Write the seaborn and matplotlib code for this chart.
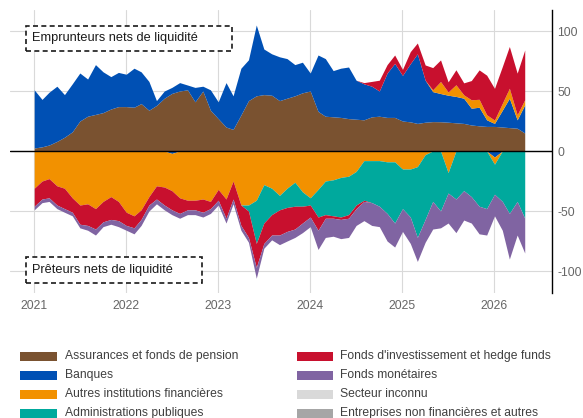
import matplotlib
matplotlib.use("Agg")
import matplotlib.pyplot as plt
from matplotlib.patches import Rectangle
import pandas as pd
import seaborn as sns

# ---------------- data (monthly, Jan 2021 - May 2026) ----------------
dates = pd.date_range("2021-01-01", periods=65, freq="MS")

# borrowers (positive stack)
assurances_pos = [2.5, 3.5, 5, 8, 11.5, 16, 25, 29, 30.5, 32,
                  35, 37, 37, 36.5, 39.5, 34, 38, 44, 48, 50,
                  51, 41, 50, 34, 27, 20, 18, 30, 42, 46,
                  47, 46.5, 42, 44, 46, 48.5, 50, 33, 29, 28.5,
                  28, 27, 26.5, 26, 28.5, 29, 28, 28, 25, 24.3,
                  23, 24, 24.5, 24.4, 24, 23.5, 23, 21.7, 21, 20.5,
                  20.5, 20, 19.5, 19, 15]
banques_pos = [48.5, 39.5, 44, 46, 35.5, 40, 40, 31, 41.5, 34,
               27, 28.5, 27, 32.5, 26.5, 24, 4, 6, 5, 7,
               4, 12, 4, 17, 14, 37, 28, 39, 34, 59,
               38, 34.5, 36.5, 33, 26, 25.5, 15, 47, 48, 38.5,
               41, 43, 32.5, 30, 25.5, 21, 37, 45, 38, 48.5,
               58, 35, 25, 23.5, 22.5, 22, 21, 14, 15.5, 5.5,
               2.5, 14, 24.5, 7, 23.5]
autres_pos = [0] * 52 + [1.5, 10, 2.7, 9.7, 2.8, 7, 6.6, 4.2, 2.8, 5.7, 8.3, 4.2, 4.2]
fonds_inv_pos = [0] * 43 + [1, 4, 9, 7, 7, 5, 10, 9, 12.7, 18.5, 18, 8.4, 12.5, 10,
                            16, 24.5, 33, 26.4, 30.6, 34.8, 34.7, 41.5]

# lenders (negative stack)
banques_neg = [0] * 18 + [-2] + [0] * 41 + [-5, 0, 0, 0, 0]
autres_neg = [-31, -25, -23, -29, -31, -39, -45, -44, -48, -42,
              -38, -42, -51, -54, -49, -38, -29, -30, -31, -39,
              -41, -41, -40, -42, -32, -40, -25, -45, -45, -41,
              -28, -31, -37, -31, -26, -34, -39, -32, -25, -24,
              -22, -21, -17, -8, -8, -8, -9, -9, -15, -15,
              -13, -3, 0, 0, -18, 0, 0, 0, 0, 0,
              -6, 0, 0, 0, 0]
admin_neg = [0] * 28 + [-5, -36,
                        -32, -22, -12, -16, -20, -12, -6, -23, -28, -30,
                        -33, -32, -28, -33, -35, -38, -43, -51, -33, -40,
                        -59, -54, -42, -50, -17, -40, -33, -38, -46, -48,
                        -25, -42, -52, -42, -56]
fonds_inv_neg = [-15, -15, -16, -16, -17, -12, -16, -18, -17, -17,
                 -19, -16, -11, -10, -8, -7, -11, -15, -16, -13,
                 -8, -8, -11, -6, -9, -16, -15, -17, -22, -20,
                 -17, -17, -21, -20, -19, -14, -10, -11, -3, -2,
                 -2, -3, -3, -1] + [0] * 21
monetaires_neg = [-3, -3, -3, -3, -3, -3, -3, -4, -5, -4,
                  -4, -5, -4, -5, -5, -5, -4, -4, -4, -4,
                  -4, -4, -4, -4, -4, -4, -4, -4, -4, -9,
                  -4, -4, -8, -8, -7, -8, -8, -16, -16, -15,
                  -16, -16, -14, -16, -19, -17, -23, -20, -19, -22,
                  -20, -19, -23, -14, -25, -28, -24.5, -22, -23, -22,
                  -18, -24, -38, -28, -29]

legend_labels = ["Assurances et fonds de pension", "Banques",
                 "Autres institutions financières", "Administrations publiques",
                 "Fonds d'investissement et hedge funds", "Fonds monétaires",
                 "Secteur inconnu", "Entreprises non financières et autres"]
years = [2021, 2022, 2023, 2024, 2025, 2026]
yticks = [-100, -50, 0, 50, 100]
ytick_labels = ["-100", "-50", "0", "50", "100"]

# ---------------- style ----------------
C_BROWN = "#7a5230"
C_BLUE = "#0050b4"
C_ORANGE = "#f29100"
C_TEAL = "#00a99d"
C_RED = "#c8102e"
C_PURPLE = "#8064a2"
C_LGRAY = "#d9d9d9"
C_GRAY = "#a6a6a6"
legend_colors = [C_BROWN, C_BLUE, C_ORANGE, C_TEAL, C_RED, C_PURPLE, C_LGRAY, C_GRAY]

sns.set_theme(style="white")
plt.rcParams["font.family"] = ["Liberation Sans", "DejaVu Sans"]

W, H = 583, 418
fig = plt.figure(figsize=(W / 100, H / 100), dpi=100)


def fx(px):
    return px / W


def fy(py):
    return 1 - py / H


ax_l, ax_r, ax_t, ax_b = 10, 551.7, 10, 293
ax = fig.add_axes([fx(ax_l), fy(ax_b), (ax_r - ax_l) / W, (ax_b - ax_t) / H])

ax.stackplot(dates, assurances_pos, banques_pos, autres_pos, fonds_inv_pos,
             colors=[C_BROWN, C_BLUE, C_ORANGE, C_RED], linewidth=0, zorder=2)
ax.stackplot(dates, banques_neg, autres_neg, admin_neg, fonds_inv_neg, monetaires_neg,
             colors=[C_BLUE, C_ORANGE, C_TEAL, C_RED, C_PURPLE], linewidth=0, zorder=2)
ax.axhline(0, color="black", lw=1.0, zorder=3)

ax.set_ylim(-118.3, 117.5)
ax.set_xlim(pd.Timestamp("2020-09-27"), pd.Timestamp("2026-08-16"))
ax.set_yticks(yticks)
ax.set_yticklabels(ytick_labels)
ax.yaxis.tick_right()
ax.set_xticks(pd.to_datetime([f"{y}-01-01" for y in years]))
ax.set_xticklabels([str(y) for y in years])
ax.grid(True, color="#d9d9d9", lw=0.8, zorder=0)
ax.set_axisbelow(True)
for s in ["left", "top", "bottom"]:
    ax.spines[s].set_visible(False)
ax.spines["right"].set_color("black")
ax.spines["right"].set_linewidth(1.0)
ax.tick_params(axis="both", length=0, labelsize=8.7, labelcolor="#666666")
ax.tick_params(axis="y", pad=4)
ax.tick_params(axis="x", pad=5)
ax.set_xlabel("")
ax.set_ylabel("")

# annotation boxes
for (x0, x1, y0, y1, txt) in [(25.7, 231.7, 25.7, 50.7, "Emprunteurs nets de liquidité"),
                               (25.7, 201.7, 257.3, 282.7, "Prêteurs nets de liquidité")]:
    fig.add_artist(Rectangle((fx(x0), fy(y1)), (x1 - x0) / W, (y1 - y0) / H,
                             transform=fig.transFigure, facecolor="white",
                             edgecolor="#1a1a1a", lw=1.2, linestyle=(0, (3, 2)), zorder=5))
    fig.text(fx(31.7), fy((y0 + y1) / 2), txt, ha="left", va="center",
             fontsize=9.2, color="#1a1a1a", zorder=6)

# legend (two columns, four rows)
rows_y = [356, 375, 394, 413]
cols = [(20, 57, 65), (297, 333, 340)]
for i, (lab, col) in enumerate(zip(legend_labels, legend_colors)):
    c = cols[i // 4]
    yc = rows_y[i % 4]
    fig.add_artist(Rectangle((fx(c[0]), fy(yc + 4.5)), (c[1] - c[0]) / W, 9 / H,
                             transform=fig.transFigure, facecolor=col, edgecolor="none"))
    fig.text(fx(c[2]), fy(yc), lab, ha="left", va="center", fontsize=8.7, color="#404040")

fig.savefig("out.png", dpi=100)
